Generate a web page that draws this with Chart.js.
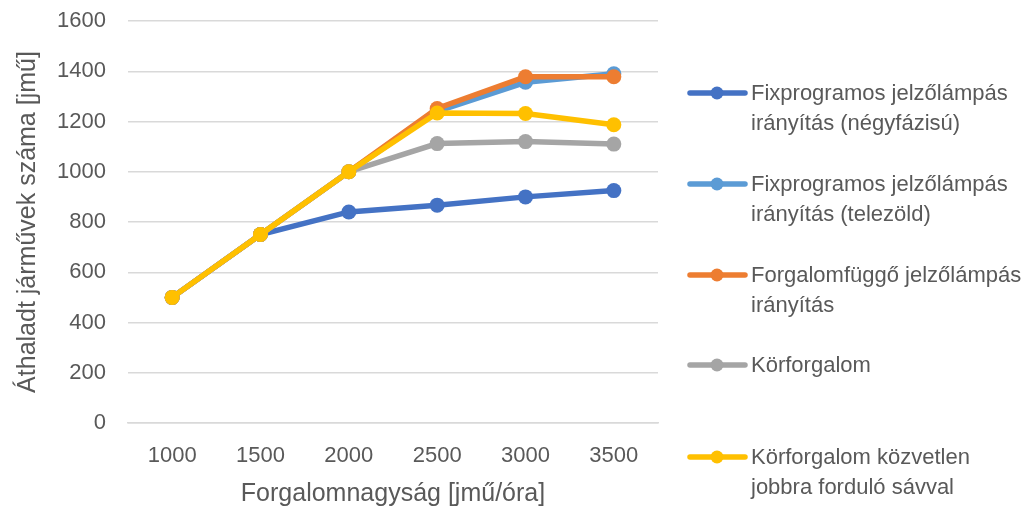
<!DOCTYPE html>
<html>
<head>
<meta charset="utf-8">
<script src="https://cdn.jsdelivr.net/npm/chart.js@4.4.0/dist/chart.umd.min.js"></script>
<style>
html,body{margin:0;padding:0;background:#fff;}
canvas{display:block;}
</style>
</head>
<body>
<canvas id="c" width="1030" height="511"></canvas>
<script>
const categories = ['1000', '1500', '2000', '2500', '3000', '3500'];
const fixNegyfazisu = [500, 750, 840, 867, 900, 925];
const fixTelezold = [500, 750, 1000, 1240, 1356, 1390];
const forgalomfuggo = [500, 750, 1000, 1252, 1378, 1378];
const korforgalom = [500, 750, 1000, 1112, 1120, 1110];
const korforgalomJobbra = [500, 750, 1000, 1234, 1232, 1187];
const seriesNames = [
  ['Fixprogramos jelzőlámpás', 'irányítás (négyfázisú)'],
  ['Fixprogramos jelzőlámpás', 'irányítás (telezöld)'],
  ['Forgalomfüggő jelzőlámpás', 'irányítás'],
  ['Körforgalom'],
  ['Körforgalom közvetlen', 'jobbra forduló sávval']
];
const seriesColors = ['#4472C4', '#5B9BD5', '#ED7D31', '#A5A5A5', '#FFC000'];
const yTicks = [0, 200, 400, 600, 800, 1000, 1200, 1400, 1600];
const xTitle = 'Forgalomnagyság [jmű/óra]';
const yTitle = 'Áthaladt járművek száma [jmű]';

const FONT = '"Liberation Sans", Arial, sans-serif';
const TEXT = '#595959';

const allSeries = [fixNegyfazisu, fixTelezold, forgalomfuggo, korforgalom, korforgalomJobbra];
const datasets = allSeries.map((d, i) => ({
  label: seriesNames[i].join(' '),
  data: d,
  borderColor: seriesColors[i],
  backgroundColor: seriesColors[i],
  pointBackgroundColor: seriesColors[i],
  pointBorderColor: seriesColors[i],
  borderWidth: 5.5,
  pointRadius: 7.5,
  pointBorderWidth: 0,
  tension: 0,
  order: allSeries.length - i,
  clip: false
}));

const legendPlugin = {
  id: 'customLegend',
  afterDraw(chart) {
    const ctx = chart.ctx;
    ctx.save();
    const starts = [93, 184, 275, 365, 457];
    chart.data.datasets.forEach((ds, i) => {
      const y = starts[i];
      ctx.strokeStyle = ds.borderColor;
      ctx.lineWidth = 5.5;
      ctx.lineCap = 'round';
      ctx.beginPath();
      ctx.moveTo(690, y);
      ctx.lineTo(745, y);
      ctx.stroke();
      ctx.fillStyle = ds.borderColor;
      ctx.beginPath();
      ctx.arc(717, y, 6.5, 0, Math.PI * 2);
      ctx.fill();
      ctx.fillStyle = TEXT;
      ctx.font = '22px ' + FONT;
      ctx.textBaseline = 'middle';
      ctx.textAlign = 'left';
      seriesNames[i].forEach((line, j) => {
        ctx.fillText(line, 751, y + 1 + j * 30);
      });
    });
    ctx.restore();
  }
};

new Chart(document.getElementById('c'), {
  type: 'line',
  data: { labels: categories, datasets },
  options: {
    responsive: false,
    animation: false,
    devicePixelRatio: 1,
    layout: { padding: { left: 0, right: 372, top: 21, bottom: 0 } },
    plugins: { legend: { display: false }, tooltip: { enabled: false } },
    scales: {
      x: {
        offset: true,
        grid: { display: false, drawTicks: false },
        border: { display: true, color: '#d9d9d9', width: 1.5 },
        ticks: { color: TEXT, font: { family: FONT, size: 22 }, padding: 20 },
        title: { display: true, text: xTitle, color: TEXT, font: { family: FONT, size: 25 }, padding: { top: 0, bottom: 2 } },
        afterFit(s) { s.paddingLeft = 0; s.paddingRight = 0; s.height = 88; }
      },
      y: {
        min: 0, max: 1600,
        afterBuildTicks(axis) { axis.ticks = yTicks.map(v => ({ value: v })); },
        grid: { color: '#d9d9d9', lineWidth: 1.5, drawTicks: false },
        border: { display: false },
        ticks: { color: TEXT, font: { family: FONT, size: 22 }, padding: 22, callback: v => String(v) },
        title: { display: true, text: yTitle, color: TEXT, font: { family: FONT, size: 25 }, padding: { top: 13, bottom: 0 } },
        afterFit(s) { s.paddingTop = 0; s.paddingBottom = 0; s.width = 128; }
      }
    }
  },
  plugins: [legendPlugin]
});
</script>
</body>
</html>
